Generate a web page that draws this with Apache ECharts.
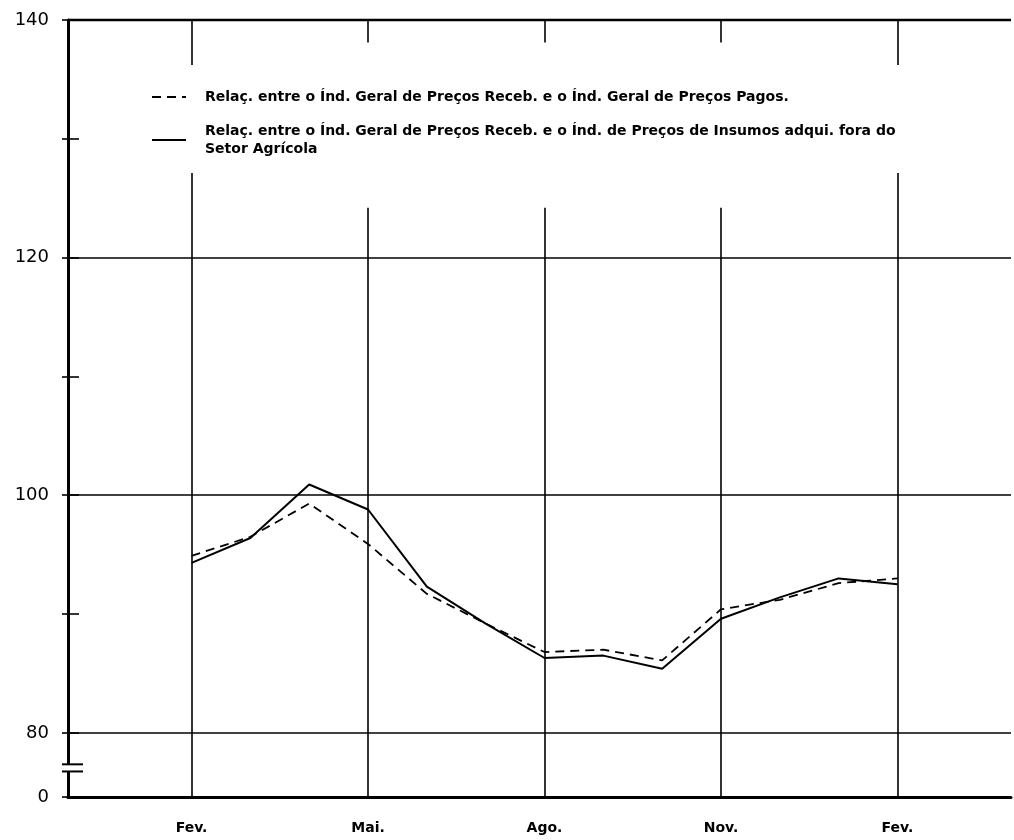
<!DOCTYPE html>
<html>
<head>
<meta charset="utf-8">
<script src="https://cdn.jsdelivr.net/npm/echarts@6/dist/echarts.min.js"></script>
<style>
html,body{margin:0;padding:0;background:#fff;}
#chart{width:1014px;height:840px;}
</style>
</head>
<body>
<div id="chart"></div>
<script>
// ---- data ----
var months = ['Fev','Mar','Abr','Mai','Jun','Jul','Ago','Set','Out','Nov','Dez','Jan','Fev'];
var seriesNames = [
  'Relaç. entre o Índ. Geral de Preços Receb. e o Índ. Geral de Preços Pagos.',
  'Relaç. entre o Índ. Geral de Preços Receb. e o Índ. de Preços de Insumos adqui. fora do\nSetor Agrícola'
];
var dashedValues = [94.9, 96.5, 99.3, 95.9, 91.7, 89.2, 86.8, 87.0, 86.1, 90.4, 91.2, 92.6, 93.0];
var solidValues  = [94.3, 96.4, 100.9, 98.8, 92.3, 89.2, 86.3, 86.5, 85.4, 89.6, 91.4, 93.0, 92.5];
var xTickLabels = ['Fev.', 'Mai.', 'Ago.', 'Nov.', 'Fev.'];   // every 3 months
var yTickLabels = ['80', '100', '120', '140'];
var yZeroLabel = '0';
var yFloor = 74.6;   // broken axis: position that stands for 0
var xMin = -2.1, xMax = 13.93;

function pairs(vals){ return vals.map(function(v,i){ return [i, v]; }); }

var chart = echarts.init(document.getElementById('chart'));
var fontFam = '"DejaVu Sans", "Liberation Sans", sans-serif';

var option = {
  animation: false,
  backgroundColor: '#fff',
  grid: { left: 68, right: 0, top: 20, bottom: 43, containLabel: false },
  legend: {
    orient: 'vertical',
    left: 140, top: 65,
    padding: [23, 16, 6, 11],
    backgroundColor: '#fff',
    itemWidth: 34, itemHeight: 14,
    itemGap: 7,
    selectedMode: false,
    itemStyle: { color: 'rgba(0,0,0,0)', borderWidth: 0, opacity: 0 },
    textStyle: { fontFamily: fontFam, fontSize: 14, fontWeight: 'bold', color: '#000', lineHeight: 18 },
    data: [
      { name: seriesNames[0], textStyle: { padding: [0, 0, 0, 14] } },
      { name: seriesNames[1], textStyle: { padding: [18, 0, 0, 14] } }
    ]
  },
  xAxis: {
    type: 'value', min: xMin, max: xMax,
    minInterval: 3, maxInterval: 3,
    axisLine: { show: true, onZero: false, lineStyle: { color: '#000', width: 3 } },
    axisTick: { show: false },
    axisLabel: {
      margin: 24, color: '#000', fontFamily: fontFam, fontSize: 14, fontWeight: 'bold',
      showMinLabel: true, showMaxLabel: true,
      formatter: function (v) {
        var r = Math.round(v);
        if (Math.abs(v - r) > 1e-6 || r % 3 !== 0) return '';
        var idx = r / 3;
        return xTickLabels[idx] || '';
      }
    },
    splitLine: { show: true, lineStyle: { color: ['rgba(0,0,0,0)', '#000', '#000', '#000', '#000', '#000', 'rgba(0,0,0,0)'], width: 1.6 } }
  },
  yAxis: [
    {
      type: 'value', min: yFloor, max: 140,
      minInterval: 10, maxInterval: 10,
      axisLine: { show: true, onZero: false, lineStyle: { color: '#000', width: 3 } },
      axisTick: { show: true, length: 6, lineStyle: { color: '#000', width: 1.6 } },
      axisLabel: {
        margin: 19, color: '#000', fontFamily: fontFam, fontSize: 18,
        showMinLabel: true, showMaxLabel: true,
        formatter: function (v) {
          if (Math.abs(v - yFloor) < 1e-6) return yZeroLabel;
          var s = String(Math.round(v));
          return yTickLabels.indexOf(s) >= 0 ? s : '';
        }
      },
      splitLine: { show: true, lineStyle: { color: ['rgba(0,0,0,0)', '#000'], width: 1.6 } }
    },
    {
      type: 'value', min: yFloor, max: 140,
      minInterval: 10, maxInterval: 10,
      position: 'left',
      axisLine: { show: false, onZero: false },
      axisTick: { show: true, inside: true, length: 11, lineStyle: { color: '#000', width: 1.6 } },
      axisLabel: { show: false },
      splitLine: { show: false }
    }
  ],
  series: [
    {
      name: seriesNames[0], type: 'line', data: pairs(dashedValues),
      symbol: 'none', silent: true,
      lineStyle: { color: '#000', width: 1.8, type: [9, 6] },
      itemStyle: { color: '#000' }
    },
    {
      name: seriesNames[1], type: 'line', data: pairs(solidValues),
      symbol: 'none', silent: true,
      lineStyle: { color: '#000', width: 2, type: 'solid' },
      itemStyle: { color: '#000' }
    }
  ]
};
chart.setOption(option);

// decorations positioned through the chart's own scales
function px(x, y) { return chart.convertToPixel({ xAxisIndex: 0, yAxisIndex: 0 }, [x, y]); }
var a = px(1, 138.1), b = px(11, 124.2);
var axisX = px(xMin, 80)[0];
var topL = px(xMin, 140), topR = px(xMax, 140);
var br1 = px(xMin, 77.35)[1], br2 = px(xMin, 76.75)[1];
chart.setOption({
  graphic: [
    { type: 'rect', z: 3, silent: true,
      shape: { x: a[0], y: a[1], width: b[0] - a[0], height: b[1] - a[1] },
      style: { fill: '#fff' } },
    { type: 'line', z: 2, silent: true,
      shape: { x1: topL[0], y1: topL[1], x2: topR[0], y2: topR[1] },
      style: { stroke: '#000', lineWidth: 2.5 } },
    { type: 'rect', z: 5, silent: true,
      shape: { x: axisX - 4, y: br1, width: 8, height: br2 - br1 },
      style: { fill: '#fff' } },
    { type: 'line', z: 6, silent: true,
      shape: { x1: axisX - 6, y1: br1, x2: axisX + 15, y2: br1 },
      style: { stroke: '#000', lineWidth: 2 } },
    { type: 'line', z: 6, silent: true,
      shape: { x1: axisX - 6, y1: br2, x2: axisX + 15, y2: br2 },
      style: { stroke: '#000', lineWidth: 2 } }
  ]
});
</script>
</body>
</html>
